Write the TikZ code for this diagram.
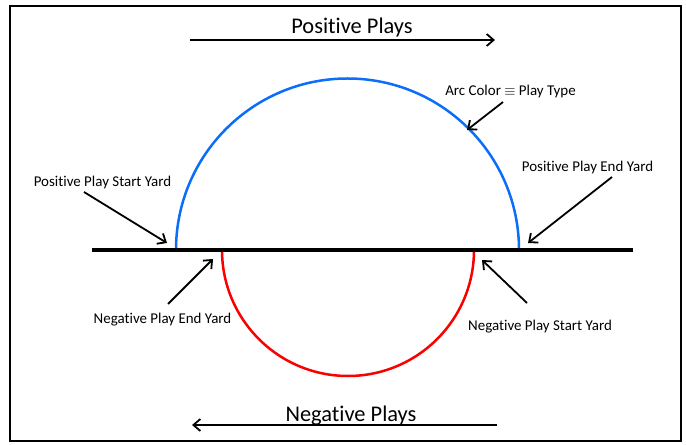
\documentclass[tikz,border=0pt]{standalone}
\usepackage{fontspec}
\setmainfont{Carlito}[Ligatures=CommonOff]
\usetikzlibrary{arrows.meta}
\definecolor{arcblue}{RGB}{10,110,250}
\definecolor{arcred}{RGB}{250,0,0}

\begin{document}
\begin{tikzpicture}[x=1bp,y=-1bp,
  lbl/.style={font=\fontsize{15}{18}\selectfont, inner sep=0pt, anchor=base},
  ttl/.style={font=\fontsize{22.5}{27}\selectfont, inner sep=0pt, anchor=base},
  pointer/.style={line width=1.8bp,-{Straight Barb[length=7bp,width=12bp]}}]
\useasboundingbox (0,0) rectangle (686,445);
\draw[line width=1.6bp] (10,6) rectangle (681,441);

% play arcs
\draw[arcblue,line width=2.5bp] (176,250) arc (180:360:171.5);
\draw[arcred,line width=2.5bp] (222,250) arc (180:0:126);

% line of yards
\draw[line width=4bp] (92,250) -- (633,250);

% direction arrows
\node[ttl] (postitle) at (352,34) {Positive Plays};
\coordinate (posL) at (190,40);
\coordinate (posR) at (495,40);
\draw[pointer] (posL) -- (posR);

\node[ttl] (negtitle) at (351,421) {Negative Plays};
\coordinate (negR) at (497,425);
\coordinate (negL) at (192,425);
\draw[pointer] (negR) -- (negL);

% labels
\node[lbl] (arctxt) at (510.5,96) {Arc Color $\equiv$ Play Type};
\node[lbl] (pee) at (587.5,171.5) {Positive Play End Yard};
\node[lbl] (pse) at (102.5,186.5) {Positive Play Start Yard};
\node[lbl] (nee) at (162.5,323.5) {Negative Play End Yard};
\node[lbl] (nse) at (540,330.5) {Negative Play Start Yard};

\coordinate (arcA) at (503,102);  \coordinate (arcB) at (467,130);
\coordinate (peeA) at (612,177);  \coordinate (peeB) at (528,243);
\coordinate (pseA) at (84,192);   \coordinate (pseB) at (167,243);
\coordinate (neeA) at (168,304);  \coordinate (neeB) at (213,259);
\coordinate (nseA) at (527,303);  \coordinate (nseB) at (482,260);

\draw[pointer] (arcA) -- (arcB);
\draw[pointer] (peeA) -- (peeB);
\draw[pointer] (pseA) -- (pseB);
\draw[pointer] (neeA) -- (neeB);
\draw[pointer] (nseA) -- (nseB);
\end{tikzpicture}
\end{document}
